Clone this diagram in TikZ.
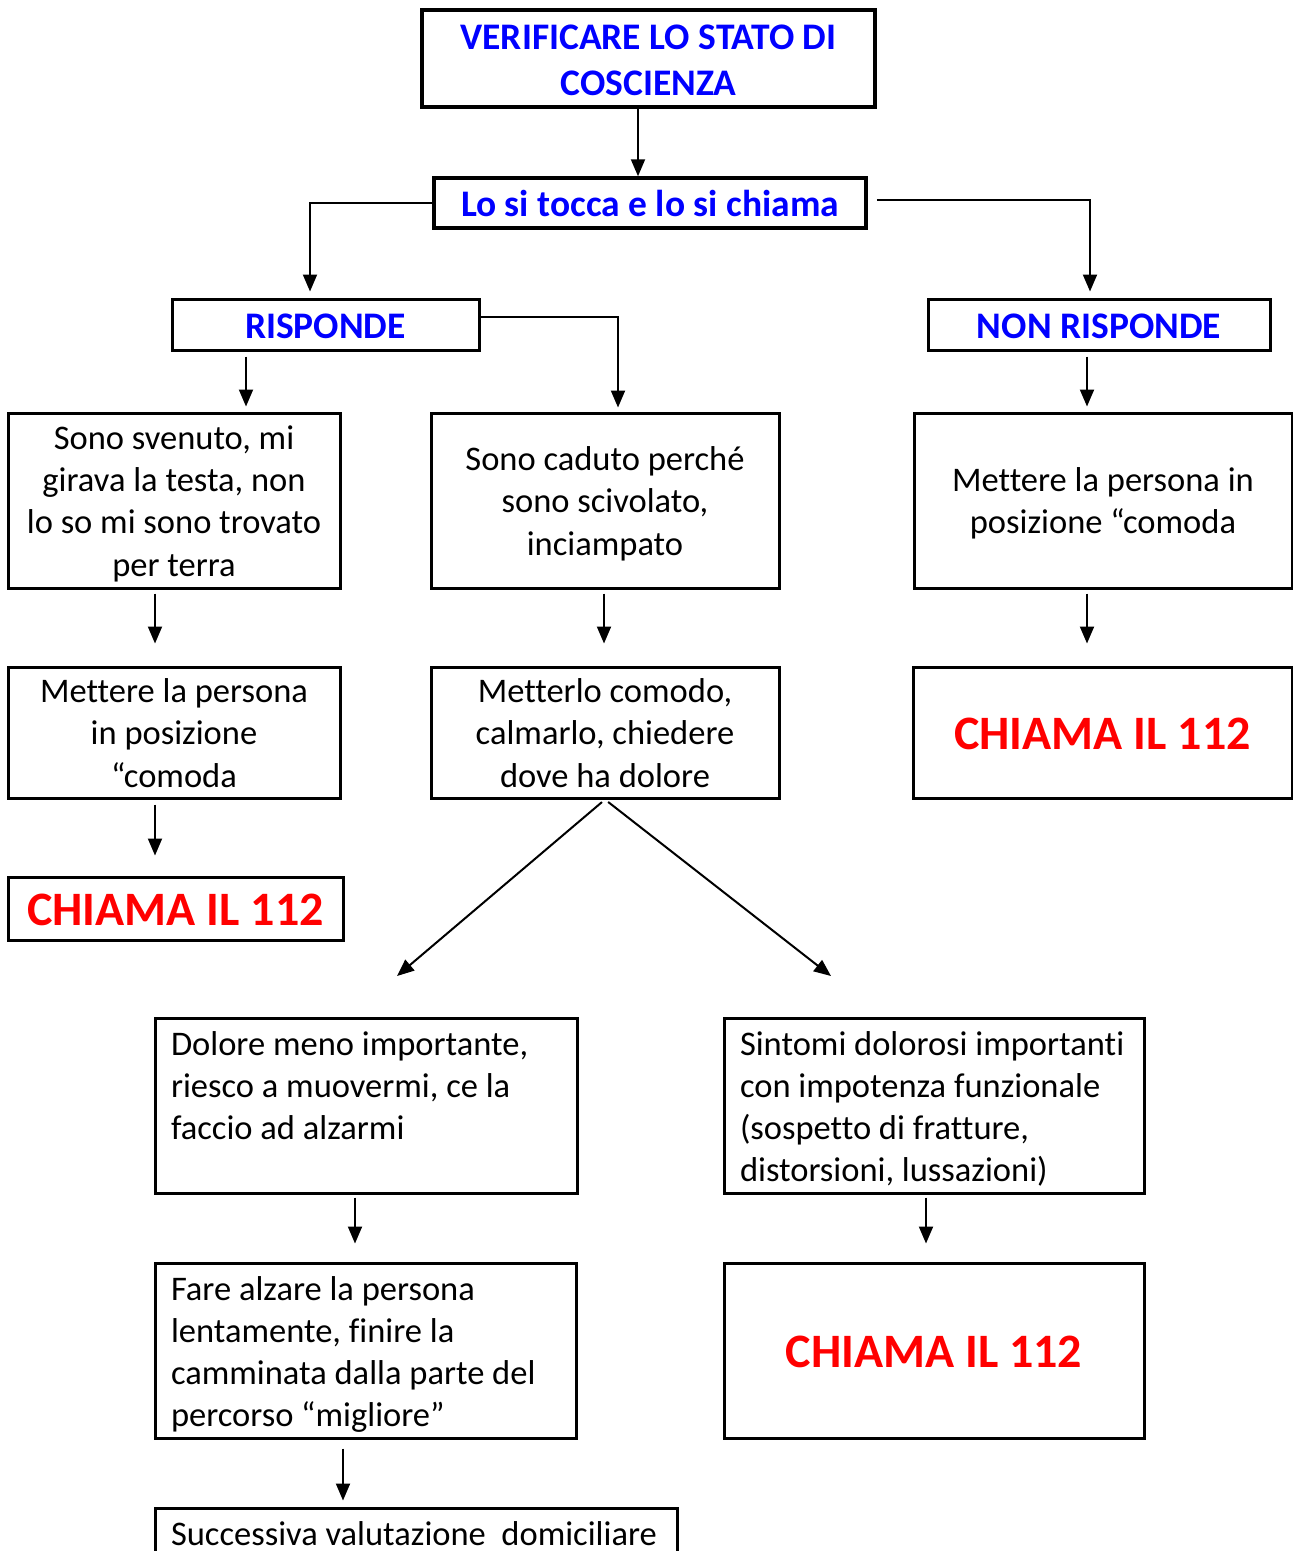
\documentclass[tikz,border=0pt]{standalone}
\usepackage{fontspec}
\setmainfont{Carlito}[Ligatures=CommonOff]
\usetikzlibrary{arrows.meta}
\definecolor{tblue}{RGB}{0,0,255}
\definecolor{tred}{RGB}{255,0,0}
\newcommand\Tbody{\rule{0pt}{34.5pt}}
\newcommand\Ttitle{\rule{0pt}{37pt}}
\newcommand\Tcall{\rule{0pt}{44pt}}
\newcommand\Bstr{\rule[-10pt]{0pt}{10pt}}
\begin{document}
\begin{tikzpicture}[x=1pt,y=-1pt,
  box/.style={draw, line width=3pt, inner sep=0pt, align=center},
  body/.style={font=\fontsize{34.5}{42.3}\selectfont},
  lbody/.style={font=\fontsize{34.5}{42.3}\selectfont, inner xsep=16pt, inner ysep=0pt},
  title/.style={font=\fontsize{37.5}{46}\selectfont\bfseries, text=tblue},
  call/.style={font=\fontsize{48}{58}\selectfont\bfseries, text=tred},
  arr/.style={line width=2pt, -{Triangle[length=17pt,width=14pt]}},
]
\useasboundingbox (0,0) rectangle (1293,1551);
\clip (0,0) rectangle (1293,1551);

% column coordinates
\coordinate (c638) at (638,0);
\coordinate (c310) at (310,0);
\coordinate (c1090) at (1090,0);
\coordinate (c618) at (618,0);
\coordinate (c246) at (246,0);
\coordinate (c1087) at (1087,0);
\coordinate (c155) at (155,0);
\coordinate (c604) at (604,0);
\coordinate (c355) at (355,0);
\coordinate (c926) at (926,0);
\coordinate (c343) at (343,0);

% nodes
\node[box, line width=4pt, title, minimum width=453pt, minimum height=97pt] (b1) at (648.5,58.5) {\Ttitle VERIFICARE LO STATO DI\\COSCIENZA\Bstr};
\node[box, line width=3.5pt, title, minimum width=432pt, minimum height=50pt] (b2) at (650,203) {\Ttitle Lo si tocca e lo si chiama\Bstr};
\node[box, title, minimum width=307pt, minimum height=51pt] (b3) at (325.5,324.5) {\Ttitle RISPONDE\Bstr};
\node[box, title, minimum width=342pt, minimum height=51pt] (b3r) at (1099,324.5) {\Ttitle NON RISPONDE\Bstr};

\node[box, body, minimum width=332pt, minimum height=175pt] (b4) at (174,500.5) {\Tbody Sono svenuto, mi\\girava la testa, non\\lo so mi sono trovato\\per terra\Bstr};
\node[box, body, minimum width=348pt, minimum height=175pt] (b5) at (605,500.5) {\Tbody Sono caduto perché\\sono scivolato,\\inciampato\Bstr};
\node[box, body, minimum width=378pt, minimum height=175pt] (b6) at (1103,500.5) {\Tbody Mettere la persona in\\posizione “comoda\Bstr};

\node[box, body, minimum width=332pt, minimum height=131pt] (b7) at (174,732.5) {\Tbody Mettere la persona\\in posizione\\“comoda\Bstr};
\node[box, body, minimum width=348pt, minimum height=131pt] (b8) at (605,732.5) {\Tbody Metterlo comodo,\\calmarlo, chiedere\\dove ha dolore\Bstr};
\node[box, call, minimum width=379pt, minimum height=131pt] (b9) at (1102.5,732.5) {\Tcall CHIAMA IL 112\Bstr};

\node[box, call, minimum width=335pt, minimum height=63pt] (b10) at (175.5,908.5) {\Tcall CHIAMA IL 112\Bstr};

\node[box, lbody, align=left] (b11) at (366,1105.5) {\parbox[c][175pt][t]{390pt}{\raggedright\rule{0pt}{37pt}Dolore meno importante,\\riesco a muovermi, ce la\\faccio ad alzarmi}};
\node[box, lbody, align=left] (b12) at (934,1105.5) {\parbox[c][175pt][t]{388pt}{\raggedright\rule{0pt}{37pt}Sintomi dolorosi importanti\\con impotenza funzionale\\(sospetto di fratture,\\distorsioni, lussazioni)}};
\node[box, lbody, align=left] (b13) at (365.5,1350.5) {\parbox[c][175pt][t]{389pt}{\raggedright\rule{0pt}{37pt}Fare alzare la persona\\lentamente, finire la\\camminata dalla parte del\\percorso “migliore”}};
\node[box, call, minimum width=420pt, minimum height=175pt] (b14) at (934,1350.5) {\Tcall CHIAMA IL 112\Bstr};
\node[box, lbody, align=left] (b15) at (416,1538) {\parbox[c][60pt][t]{490pt}{\raggedright\rule{0pt}{37pt}Successiva valutazione\ \ domiciliare}};

% free ends of the diagonal arrows
\coordinate (dl) at (397,976);
\coordinate (dr) at (831,976);

% connectors
\draw[arr] (b1.south -| c638) -- (b2.north -| c638);
\draw[arr, shorten >=6pt] (b2.west) -| (b3.north -| c310);
\draw[arr, shorten >=6pt] ([xshift=9pt,yshift=3pt]b2.east) -| (b3r.north -| c1090);
\draw[arr, shorten >=4pt] ([yshift=8pt]b3.east) -| (b5.north -| c618);
\draw[arr, shorten <=5pt, shorten >=5pt] (b3.south -| c246) -- (b4.north -| c246);
\draw[arr, shorten <=5pt, shorten >=5pt] (b3r.south -| c1087) -- (b6.north -| c1087);
\draw[arr, shorten <=4pt, shorten >=22pt] (b4.south -| c155) -- (b7.north -| c155);
\draw[arr, shorten <=4pt, shorten >=22pt] (b5.south -| c604) -- (b8.north -| c604);
\draw[arr, shorten <=4pt, shorten >=22pt] (b6.south -| c1087) -- (b9.north -| c1087);
\draw[arr, shorten <=5pt, shorten >=20pt] (b7.south -| c155) -- (b10.north -| c155);
\draw[arr, shorten <=4pt] (b8.south) -- (dl);
\draw[arr, shorten <=4pt] (b8.south) -- (dr);
\draw[arr, shorten <=3pt, shorten >=18pt] (b11.south -| c355) -- (b13.north -| c355);
\draw[arr, shorten <=3pt, shorten >=18pt] (b12.south -| c926) -- (b14.north -| c926);
\draw[arr, shorten <=9pt, shorten >=6pt] (b13.south -| c343) -- (b15.north -| c343);
\end{tikzpicture}
\end{document}
